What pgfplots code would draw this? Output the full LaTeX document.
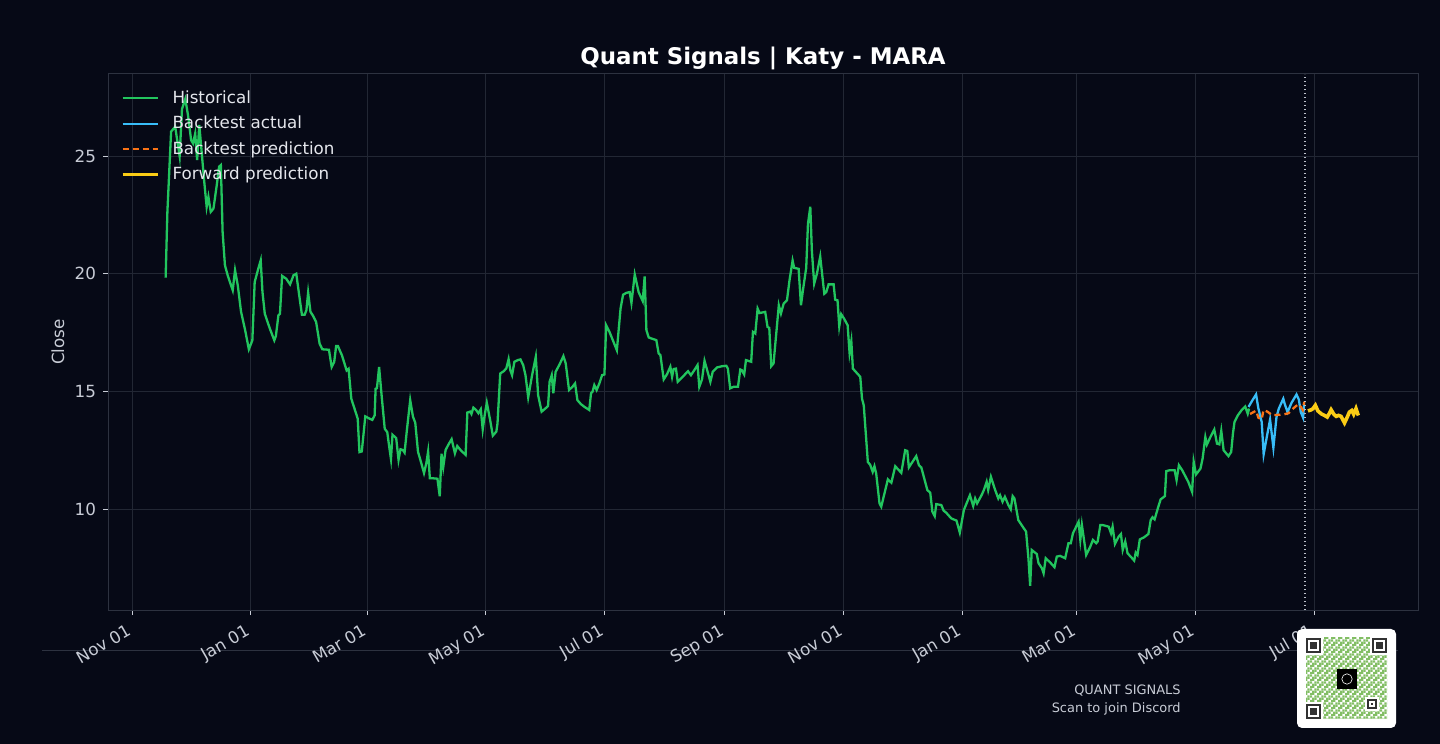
\documentclass[border=0pt]{standalone}
\usepackage{fontspec}
\setmainfont{DejaVu Sans}
\usepackage{pgfplots}
\pgfplotsset{compat=1.18}
\usetikzlibrary{patterns.meta}
\definecolor{bg}{RGB}{6,9,22}
\definecolor{spine}{RGB}{45,50,64}
\definecolor{gridc}{RGB}{34,39,52}
\definecolor{tickc}{RGB}{200,204,214}
\definecolor{legc}{RGB}{228,230,236}
\definecolor{histc}{RGB}{34,197,94}
\definecolor{actc}{RGB}{56,189,248}
\definecolor{predc}{RGB}{249,115,22}
\definecolor{fwdc}{RGB}{250,204,21}
\definecolor{dotc}{RGB}{190,194,204}
\definecolor{qrg}{RGB}{130,190,100}
\definecolor{qrdark}{RGB}{50,50,50}
\tikzdeclarepattern{name=qrpat, type=uncolored,
  bounding box={(0,0) and (3.6bp,3.6bp)}, tile size={(3.6bp,3.6bp)},
  code={
    \fill (0,0) rectangle (1.2bp,1.2bp);
    \fill (1.2bp,0) rectangle (2.4bp,1.2bp);
    \fill (2.4bp,1.2bp) rectangle (3.6bp,2.4bp);
    \fill (0,2.4bp) rectangle (1.2bp,3.6bp);
    \fill (1.2bp,1.2bp) rectangle (2.4bp,2.4bp);
    \fill (2.4bp,2.4bp) rectangle (3.6bp,3.6bp);
  }}
\begin{document}
\begin{tikzpicture}
\fill[bg] (0,0) rectangle (720bp,372bp);
\draw[spine, line width=0.5bp] (21bp,46.5bp) -- (699bp,46.5bp);
\begin{axis}[
  scale only axis, width=655bp, height=268bp,
  anchor=south west, at={(54bp,67bp)},
  xmin=-12.35, xmax=661.5, ymin=5.71, ymax=28.49,
  xtick={0,61,121,182,243,305,366,427,486,547,608},
  xticklabels={Nov 01,Jan 01,Mar 01,May 01,Jul 01,Sep 01,Nov 01,Jan 01,Mar 01,May 01,Jul 01},
  ytick={10,15,20,25},
  tick pos=left, tick align=outside, major tick length=2.5bp,
  tick style={color=tickc, line width=0.5bp},
  axis line style={color=spine, line width=0.5bp},
  grid=major, major grid style={color=gridc, line width=0.5bp},
  /pgf/number format/assume math mode=true,
  tick label style={font=\fontsize{8.4}{10}\selectfont, color=tickc},
  xticklabel style={xshift=-2.5bp, yshift=-2bp, rotate=30, anchor=north east, inner sep=1.5bp},
  ylabel={Close},
  every axis y label/.style={at={(axis description cs:-0.0382,0.5)}, rotate=90, anchor=center,
    font=\fontsize{8.4}{10}\selectfont, text=tickc},
  title={\textbf{Quant Signals | Katy - MARA}},
  title style={font=\fontsize{11.5}{13}\selectfont, color=white, at={(axis description cs:0.5,1)}, anchor=base, yshift=-1bp},
  legend style={at={(axis description cs:0.005,0.985)}, anchor=north west, draw=none, fill=none,
    text=legc, font=\fontsize{8.4}{10}\selectfont, row sep=0.9bp},
  legend cell align=left,
  legend image code/.code={\draw[#1] (0bp,0bp) -- (17.5bp,0bp); \path (22bp,0bp);},
]
\addplot[histc, line width=1.15bp] coordinates {
(17.3,19.84)(18.2,22.63)(20.1,26.04)(22.2,26.25)(24.5,25.0)(25.7,27.0)(27.4,27.43)(28.8,26.74)(30.4,25.68)(31.4,25.54)(32.5,25.96)(33.5,24.83)(34.6,26.32)(35.6,25.4)(37.0,24.05)(38.4,22.84)(39.3,23.27)(40.5,22.63)(41.9,22.77)(43.6,23.77)(44.8,24.55)(45.7,24.62)(46.6,21.78)(47.8,20.36)(49.2,19.94)(51.8,19.30)(53.0,20.15)(54.4,19.51)(56.1,18.38)(58.2,17.60)(60.1,16.79)(61.9,17.17)(63.1,19.65)(65.2,20.29)(66.2,20.57)(67.1,19.23)(68.3,18.30)(70.9,17.67)(73.2,17.17)(74.0,17.35)(75.3,18.23)(76.1,18.30)(77.2,19.91)(79.3,19.79)(81.3,19.55)(83.1,19.94)(84.5,20.0)(86.0,19.09)(87.4,18.26)(88.8,18.26)(89.7,18.45)(90.6,19.2)(91.8,18.38)(93.0,18.23)(94.7,17.95)(96.5,17.03)(97.9,16.79)(101.3,16.77)(102.7,16.04)(104.0,16.25)(105.0,16.93)(105.9,16.93)(108.0,16.53)(110.4,15.89)(111.4,15.96)(112.8,14.69)(115.3,14.05)(116.1,13.84)(117.0,12.42)(118.2,12.45)(120.0,13.94)(122.2,13.84)(123.6,13.79)(124.8,13.98)(125.3,15.11)(126.0,15.14)(127.1,16.04)(128.3,14.91)(130.0,13.41)(131.3,13.27)(132.1,12.77)(133.2,12.13)(134.0,13.16)
(135.9,13.01)(137.1,12.09)(138.1,12.54)(139.3,12.51)(140.2,12.40)(141.4,13.36)(143.1,14.63)(144.5,13.93)(145.7,13.67)(147.1,12.44)(148.8,11.95)(150.2,11.53)(151.4,11.95)(152.3,12.44)(153.2,11.31)(154.5,11.31)(157.1,11.29)(158.3,10.54)(159.2,12.35)(160.1,11.78)(161.3,12.51)(162.7,12.73)(164.4,12.97)(166.1,12.37)(167.3,12.68)(169.0,12.51)(171.6,12.30)(172.5,14.10)(173.9,14.14)(174.6,14.04)(175.6,14.31)(177.0,14.21)(178.2,14.07)(179.4,14.24)(180.4,13.39)(181.3,13.93)(182.5,14.52)(184.2,13.79)(185.6,13.12)(187.4,13.29)(188.0,13.64)(189.4,15.76)(191.2,15.86)(192.5,15.97)(193.7,16.37)(194.6,15.90)(195.5,15.69)(196.7,16.26)(198.4,16.33)(199.8,16.36)(201.2,16.12)(202.4,15.69)(203.8,14.75)(205.8,15.69)(207.7,16.47)(208.9,14.84)(210.7,14.14)(212.7,14.28)(214.0,14.38)(214.8,15.41)(215.9,15.69)(216.7,14.92)(217.9,15.83)(220.0,16.16)(221.9,16.50)(223.1,16.19)(224.8,15.06)(226.6,15.20)(227.9,15.34)(229.1,14.63)(230.9,14.46)(232.6,14.35)(235.2,14.21)(236.1,14.92)(236.9,14.99)(237.8,15.27)(239.0,15.06)(240.4,15.34)(241.8,15.69)(243.0,15.72)(243.9,17.81)(245.6,17.53)(249.4,16.75)(251.3,18.52)(252.6,19.11)(254.3,19.19)(256.0,19.22)
(256.9,18.76)(258.6,19.97)(260.6,19.22)(262.7,18.84)(263.7,19.89)(264.6,17.60)(265.8,17.29)(269.7,17.18)(270.9,16.61)(271.8,16.54)(273.5,15.51)(275.2,15.73)(276.9,16.05)(277.8,15.62)(278.6,15.95)(279.8,15.97)(280.7,15.41)(282.9,15.59)(286.0,15.86)(287.5,15.69)(289.2,15.90)(290.9,16.12)(291.8,15.20)(293.2,15.51)(294.5,16.30)(296.1,15.83)(297.5,15.41)(298.7,15.83)(300.9,16.02)(303.5,16.07)(305.7,16.09)(306.5,15.97)(307.7,15.13)(309.5,15.20)(311.7,15.20)(312.9,15.93)(313.7,15.90)(314.9,15.72)(315.8,16.33)(318.5,16.26)(319.4,17.53)(320.6,17.46)(321.8,18.52)(322.8,18.33)(325.7,18.38)(326.9,17.74)(327.8,17.70)(328.8,16.07)(330.0,16.19)(332.7,18.66)(333.8,18.31)(335.2,18.73)(336.9,18.87)(338.2,19.72)(339.8,20.56)(340.6,20.25)(342.9,20.21)(344.1,18.66)(345.1,19.29)(346.8,20.25)(347.7,22.12)(348.9,22.85)(349.7,20.99)(350.9,19.58)(352.3,20.0)(354.0,20.73)(356.1,19.15)(357.1,19.22)(358.3,19.55)(360.9,19.55)(361.7,18.90)(362.9,18.87)(363.8,17.77)(364.8,18.28)(366.3,18.09)(368.1,17.81)(369.1,16.64)(370.0,17.13)(370.8,15.97)(374.6,15.62)(375.5,14.69)(376.4,14.41)(378.5,12.0)(379.7,11.88)
(381.0,11.58)(381.9,11.82)(382.8,11.51)(384.5,10.24)(385.4,10.10)(388.8,11.26)(390.6,11.12)(392.6,11.82)(395.7,11.54)(397.7,12.50)(398.8,12.47)(399.6,11.77)(403.4,12.25)(404.8,11.86)(406.0,11.77)(409.1,10.81)(410.6,10.69)(411.7,9.89)(412.9,9.70)(413.7,10.21)(416.3,10.17)(417.5,9.93)(418.9,9.84)(419.8,9.75)(421.5,9.60)(424.1,9.51)(425.8,9.00)(427.9,9.96)(431.0,10.59)(432.7,10.13)(433.7,10.45)(434.7,10.24)(437.0,10.59)(438.2,10.81)(439.6,11.16)(440.4,10.81)(441.8,11.37)(443.9,10.83)(445.6,10.45)(446.5,10.59)(447.8,10.31)(449.0,10.52)(450.8,10.17)(452.0,9.99)(453.0,10.55)(453.9,10.45)(455.9,9.53)(458.5,9.21)(459.9,9.04)(461.1,7.91)(462.0,6.74)(462.8,8.26)(465.4,8.09)(466.3,7.70)(468.0,7.49)(468.9,7.27)(470.0,7.91)(472.3,7.73)(474.5,7.53)(475.7,7.98)(477.4,8.01)(480.0,7.91)(481.7,8.55)(482.9,8.55)(484.0,8.97)(486.9,9.46)(487.8,8.69)(488.6,9.32)(490.8,8.05)(492.9,8.40)(494.3,8.69)(496.0,8.55)
(496.7,8.62)(498.1,9.32)(499.3,9.32)(502.4,9.25)(503.6,8.97)(504.4,9.25)(505.6,8.52)(507.5,8.83)(508.7,8.94)(509.6,8.26)(510.9,8.62)(512.1,8.12)(514.1,7.94)(515.5,7.81)(516.3,8.15)(517.2,8.05)(518.4,8.71)(520.6,8.80)(522.8,8.94)(524.0,9.53)(524.9,9.65)(526.0,9.56)(527.8,10.07)(529.1,10.41)(531.3,10.55)(532.0,11.61)(533.7,11.65)(536.3,11.65)(537.3,11.23)(538.5,11.86)(540.2,11.65)(543.3,11.16)(545.3,10.73)(546.1,12.01)(547.3,11.47)(549.6,11.72)(550.7,12.15)(552.1,13.06)(552.9,12.74)(554.7,13.06)(556.7,13.38)(558.1,12.78)(559.3,12.75)(560.3,13.32)(561.5,12.50)(564.0,12.25)(565.4,12.43)(566.3,13.21)(567.1,13.70)(568.8,13.98)(570.9,14.22)(572.6,14.36)(573.9,14.05)(574.6,14.27)
};
\addlegendentry{Historical}
\addplot[actc, line width=1.15bp] coordinates {
(574.3,14.34)(576.3,14.62)(578.2,14.87)(579.4,14.27)(581.1,13.70)(582.1,12.33)(583.7,13.06)(585.4,13.80)(587.1,12.61)(588.7,13.91)(589.9,14.27)(592.2,14.69)(593.0,14.45)(594.4,14.12)(596.4,14.51)(599.0,14.87)(600.2,14.65)(601.2,14.12)(602.4,13.88)(602.9,14.48)
};
\addlegendentry{Backtest actual}
\addplot[predc, line width=1.15bp, dash pattern=on 3bp off 2bp] coordinates {
(575.1,14.04)(578.2,14.18)(579.4,13.88)(581.1,13.81)(582.0,14.21)(584.0,14.14)(586.3,14.0)(588.8,14.0)(592.2,14.02)(594.8,14.07)(597.4,14.28)(599.9,14.46)(601.2,14.35)(602.2,14.21)(603.0,14.56)
};
\addlegendentry{Backtest prediction}
\addplot[fwdc, line width=1.8bp] coordinates {
(604.9,14.17)(606.6,14.22)(607.5,14.27)(608.7,14.41)(610.0,14.17)(611.7,14.05)(613.4,13.98)(614.8,13.91)(616.0,14.08)(616.8,14.22)(618.2,14.03)(619.4,13.94)(620.6,13.98)(621.9,13.94)(623.7,13.66)(625.0,13.89)(626.2,14.12)(627.4,14.19)(628.4,14.03)(629.6,14.27)(630.5,14.05)(631.3,14.08)
};
\addlegendentry{Forward prediction}
\addplot[forget plot, dotc, line width=0.6bp, dash pattern=on 0.6bp off 1.4bp] coordinates {(603.4,5.71) (603.4,28.49)};
\end{axis}
\node[anchor=base east, inner sep=0, text=tickc, font=\fontsize{6.5}{8}\selectfont] at (590.5bp,25bp) {QUANT SIGNALS};
\node[anchor=base east, inner sep=0, text=tickc, font=\fontsize{6.5}{8}\selectfont] at (590.5bp,16bp) {Scan to join Discord};
% QR badge
\fill[white, rounded corners=2.5bp] (648.5bp,8bp) rectangle (698bp,57.5bp);
\fill[pattern=qrpat, pattern color=qrg] (653bp,12.5bp) rectangle (693.5bp,53bp);
\foreach \qx/\qy in {653/45.5, 686/45.5, 653/12.5} {
  \fill[white] (\qx bp-0.8bp,\qy bp-0.8bp) rectangle (\qx bp+8.3bp,\qy bp+8.3bp);
  \fill[qrdark] (\qx bp,\qy bp) rectangle (\qx bp+7.5bp,\qy bp+7.5bp);
  \fill[white] (\qx bp+1.1bp,\qy bp+1.1bp) rectangle (\qx bp+6.4bp,\qy bp+6.4bp);
  \fill[qrdark] (\qx bp+2.2bp,\qy bp+2.2bp) rectangle (\qx bp+5.3bp,\qy bp+5.3bp);
}
\fill[white] (682.7bp,16.7bp) rectangle (689.3bp,23.3bp);
\fill[qrdark] (683.5bp,17.5bp) rectangle (688.5bp,22.5bp);
\fill[white] (684.3bp,18.3bp) rectangle (687.7bp,21.7bp);
\fill[qrdark] (685.4bp,19.4bp) rectangle (686.6bp,20.6bp);
\fill[black] (668.5bp,27.5bp) rectangle (678.5bp,37.5bp);
\draw[white, line width=0.3bp] (673.5bp,32.5bp) circle (2.6bp);
\pgfresetboundingbox
\path[use as bounding box] (0,0) rectangle (720bp,372bp);
\end{tikzpicture}
\end{document}
